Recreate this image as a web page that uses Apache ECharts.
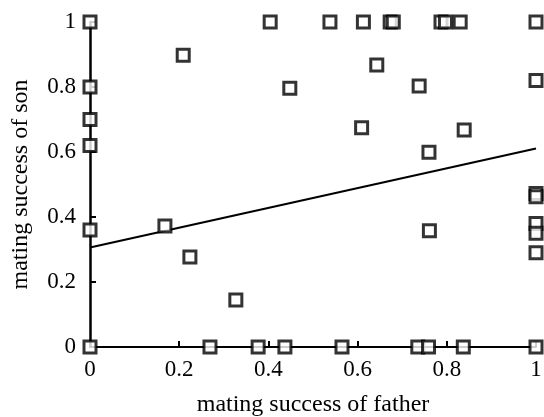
<!DOCTYPE html>
<html>
<head>
<meta charset="utf-8">
<script src="https://cdn.jsdelivr.net/npm/echarts@6/dist/echarts.min.js"></script>
<style>
html,body{margin:0;padding:0;background:#fff;}
#chart{width:544px;height:417px;}
</style>
</head>
<body>
<div id="chart"></div>
<script>
// mating success of father (x) and son (y) for each family
const fatherSuccess = [
  0, 0, 0, 0, 0, 0,
  0.168, 0.209, 0.224, 0.327,
  0.269, 0.377, 0.437, 0.565, 0.735, 0.759, 0.837, 1.0,
  0.404, 0.538, 0.613, 0.673, 0.680, 0.787, 0.797, 0.830, 1.0,
  0.448, 0.643, 0.738, 0.609, 0.839, 0.760, 0.761,
  1.0, 1.0, 1.0, 1.0, 1.0, 1.0
];
const sonSuccess = [
  1.0, 0.80, 0.70, 0.62, 0.36, 0,
  0.372, 0.898, 0.277, 0.145,
  0, 0, 0, 0, 0, 0, 0, 0,
  1, 1, 1, 1, 1, 1, 1, 1, 1,
  0.796, 0.868, 0.803, 0.675, 0.668, 0.599, 0.358,
  0.82, 0.472, 0.462, 0.38, 0.35, 0.29
];
// fitted regression line end points
const fitX = [0, 1];
const fitY = [0.306, 0.611];
const tickValues = [0, 0.2, 0.4, 0.6, 0.8, 1];

const points = fatherSuccess.map((x, i) => [x, sonSuccess[i]]);
const fitLine = fitX.map((x, i) => [x, fitY[i]]);

const font = 'Liberation Serif';
const chart = echarts.init(document.getElementById('chart'), null, {renderer: 'canvas'});
chart.setOption({
  animation: false,
  backgroundColor: '#fff',
  grid: {left: 90, right: 8, top: 22, bottom: 70, containLabel: false, outerBoundsMode: 'none'},
  xAxis: {
    type: 'value', min: 0, max: 1, interval: 0.2,
    name: 'mating success of father', nameLocation: 'middle', nameGap: 46,
    nameTextStyle: {fontFamily: font, fontSize: 24, color: '#000'},
    axisLine: {show: true, lineStyle: {color: '#000', width: 2}},
    axisTick: {show: true, inside: true, length: 6, lineStyle: {color: '#000', width: 2}},
    axisLabel: {fontFamily: font, fontSize: 23, color: '#000', margin: 11},
    splitLine: {show: false}
  },
  yAxis: {
    type: 'value', min: 0, max: 1, interval: 0.2,
    name: 'mating success of son', nameLocation: 'middle', nameGap: 57,
    nameTextStyle: {fontFamily: font, fontSize: 24, color: '#000'},
    axisLine: {show: true, lineStyle: {color: '#000', width: 2.5}},
    axisTick: {show: true, inside: true, length: 6, lineStyle: {color: '#000', width: 2}},
    axisLabel: {fontFamily: font, fontSize: 23, color: '#000', margin: 14},
    splitLine: {show: false}
  },
  series: [
    {
      type: 'line', data: fitLine, showSymbol: false, symbol: 'none',
      lineStyle: {color: '#000', width: 2}, z: 2, silent: true
    },
    {
      type: 'scatter', data: points, symbol: 'rect', symbolSize: 12,
      itemStyle: {color: '#fff', borderColor: '#000', borderWidth: 3},
      clip: false, z: 3
    }
  ]
});
</script>
</body>
</html>
